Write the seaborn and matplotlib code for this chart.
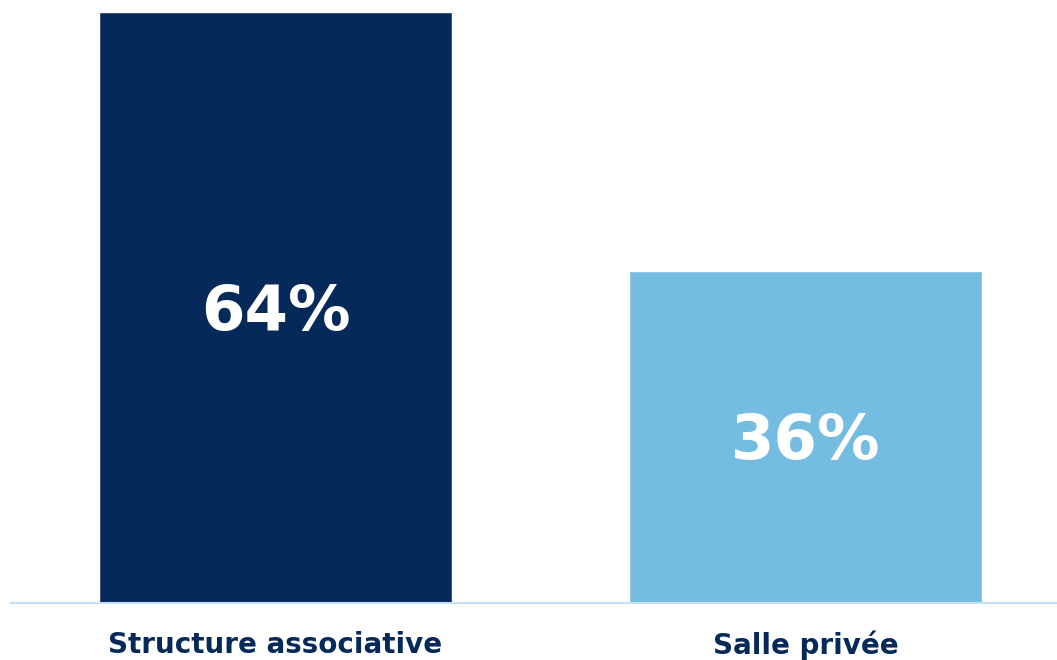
import matplotlib
matplotlib.use('Agg')
import matplotlib.pyplot as plt
import seaborn as sns
import pandas as pd

# DATA
categories = ['Structure associative', 'Salle privée']
shares = [64, 36]
bar_colors = ['#052a5a', '#74bde0']

df = pd.DataFrame({'categorie': categories, 'part': shares})

sns.set_style('white')
plt.rcParams['font.family'] = ['DejaVu Sans']

fig = plt.figure(figsize=(10.57, 6.6), dpi=100)
ax = fig.add_axes([11 / 1057, 57 / 660, 1046 / 1057, 603 / 660])

sns.barplot(data=df, x='categorie', y='part', hue='categorie', palette=bar_colors,
            width=0.666, legend=False, saturation=1, ax=ax)

ax.set_xlim(-0.499, 1.4745)
ax.set_ylim(0, 65.3)

# value labels inside the bars
for i, v in enumerate(shares):
    ax.text(i, v / 2 - 0.55, f'{v}%', ha='center', va='center', color='white',
            fontsize=45, fontweight='bold')

ax.set_xlabel('')
ax.set_ylabel('')
ax.set_yticks([])
ax.tick_params(axis='x', length=0, pad=20, labelsize=20, labelcolor='#052a5a')
for lbl in ax.get_xticklabels():
    lbl.set_fontweight('bold')

for side in ['top', 'left', 'right']:
    ax.spines[side].set_visible(False)
ax.spines['bottom'].set_color('#c5dff5')
ax.spines['bottom'].set_linewidth(1.5)

fig.savefig('out.png', dpi=100)
